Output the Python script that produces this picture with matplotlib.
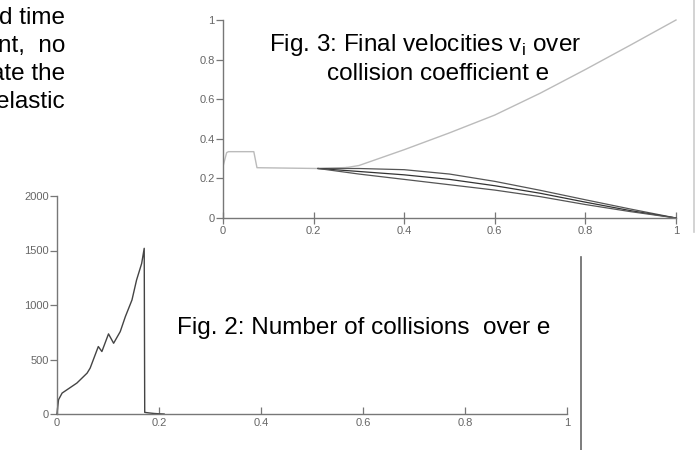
import numpy as np
import matplotlib
matplotlib.use('Agg')
import matplotlib.pyplot as plt
from matplotlib.lines import Line2D

plt.rcParams['font.family'] = ['Liberation Sans', 'DejaVu Sans']
plt.rcParams['mathtext.fontset'] = 'custom'
plt.rcParams['mathtext.rm'] = 'Liberation Sans'

# Fig. 3: final velocities over collision coefficient e
e_low = [0, 0.008, 0.012, 0.068, 0.075, 0.21, 0.273]
v_low = [0.26, 0.33, 0.335, 0.335, 0.254, 0.25, 0.255]
e_rise = [0.273, 0.3, 0.4, 0.5, 0.6, 0.7, 0.8, 0.9, 1.0]
v_rise = [0.255, 0.265, 0.345, 0.43, 0.52, 0.63, 0.75, 0.874, 1.0]
e_desc = [0.21, 0.3, 0.4, 0.5, 0.6, 0.7, 0.8, 0.9, 1.0]
v_desc1 = [0.25, 0.25, 0.244, 0.222, 0.185, 0.14, 0.092, 0.045, 0.0]
v_desc2 = [0.25, 0.235, 0.218, 0.195, 0.163, 0.125, 0.08, 0.037, 0.0]
v_desc3 = [0.25, 0.222, 0.195, 0.168, 0.141, 0.108, 0.068, 0.032, 0.0]
ticks3 = [0, 0.2, 0.4, 0.6, 0.8, 1]
tick_labels3 = ['0', '0.2', '0.4', '0.6', '0.8', '1']

# Fig. 2: number of collisions over e
e_coll = [0, 0.003, 0.01, 0.039, 0.059, 0.065, 0.081, 0.088, 0.101, 0.111,
          0.124, 0.134, 0.147, 0.156, 0.166, 0.171, 0.172, 0.18, 0.19, 0.2, 0.21]
n_coll = [0, 131, 192, 284, 375, 421, 619, 573, 735, 649,
          756, 893, 1046, 1229, 1381, 1520, 15, 10, 5, 2, 0]
yticks2 = [0, 500, 1000, 1500, 2000]

text_lines = ['d time', 'nt,  no', 'ate the', 'elastic']

W, H = 695, 450
fig = plt.figure(figsize=(W / 100, H / 100), dpi=100)
axis_col = '#777777'
lab_col = '#666666'

def px(x, y):
    return x / W, 1 - y / H

########################################
# bottom plot (Fig. 2)
ax2 = fig.add_axes([57 / W, 36 / H, 510 / W, 218 / H])
ax2.set_facecolor('none')
ax2.plot(e_coll, n_coll, color='#444444', lw=1.0, clip_on=False)
ax2.set_xlim(0, 1)
ax2.set_ylim(0, 2000)
ax2.set_xticks(ticks3, tick_labels3)
ax2.set_yticks(yticks2, [str(v) for v in yticks2])
for s in ['top', 'right']:
    ax2.spines[s].set_visible(False)
for s in ['left', 'bottom']:
    ax2.spines[s].set_color(axis_col)
    ax2.spines[s].set_linewidth(1.0)
ax2.tick_params(axis='x', direction='in', length=5, width=0.9, color=axis_col,
                labelsize=8, labelcolor=lab_col, pad=3)
ax2.tick_params(axis='y', direction='out', length=5, width=0.9, color=axis_col,
                labelsize=8, labelcolor=lab_col, pad=1)

########################################
# top plot (Fig. 3)
ax3 = fig.add_axes([223 / W, 232 / H, 453 / W, 198 / H])
ax3.set_facecolor('none')
ax3.plot(e_low, v_low, color='#bbbbbb', lw=1.0)
ax3.plot(e_rise, v_rise, color='#bbbbbb', lw=1.0, clip_on=False)
ax3.plot(e_desc, v_desc1, color='#555555', lw=0.9, clip_on=False)
ax3.plot(e_desc, v_desc2, color='#333333', lw=0.9, clip_on=False)
ax3.plot(e_desc, v_desc3, color='#555555', lw=0.9, clip_on=False)
ax3.set_xlim(0, 1)
ax3.set_ylim(0, 1)
ax3.set_xticks(ticks3, tick_labels3)
ax3.set_yticks(ticks3, tick_labels3)
for s in ['top', 'right']:
    ax3.spines[s].set_visible(False)
for s in ['left', 'bottom']:
    ax3.spines[s].set_color(axis_col)
    ax3.spines[s].set_linewidth(1.0)
ax3.tick_params(axis='x', direction='inout', length=8, width=0.9, color=axis_col,
                labelsize=8, labelcolor=lab_col, pad=2)
ax3.tick_params(axis='y', direction='out', length=5, width=0.9, color=axis_col,
                labelsize=8, labelcolor=lab_col, pad=1)

########################################
# frame lines of the scanned figures
fig.add_artist(Line2D([694 / W, 694 / W], [1, 1 - 232 / H], color='#cccccc', lw=1.2))
fig.add_artist(Line2D([581 / W, 581 / W], [1 - 257 / H, 0], color='#666666', lw=1.2))

# captions and text
fs = 17.5
x, y = px(269, 45)
fig.text(x, y, r'Fig. 3: Final velocities v$_{\rm i}$ over', fontsize=fs, va='center', ha='left')
x, y = px(327, 74)
fig.text(x, y, 'collision coefficient e', fontsize=fs, va='center', ha='left')
x, y = px(177, 328)
fig.text(x, y, 'Fig. 2: Number of collisions  over e', fontsize=fs, va='center', ha='left')
for i, t in enumerate(text_lines):
    x, y = px(65, 18 + 28 * i)
    fig.text(x, y, t, fontsize=fs, va='center', ha='right')

fig.savefig('out.png', dpi=100)
